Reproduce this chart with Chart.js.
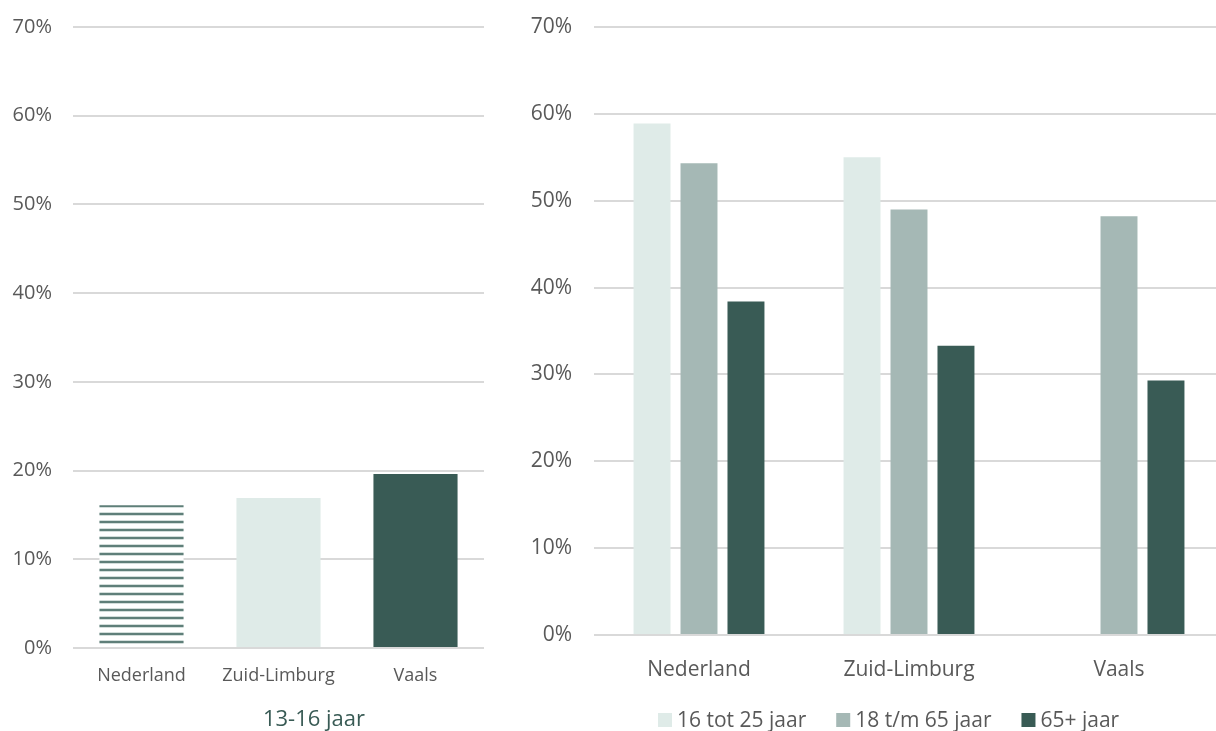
<!DOCTYPE html>
<html>
<head>
<meta charset="utf-8">
<script src="https://cdn.jsdelivr.net/npm/chart.js@4.4.1/dist/chart.umd.min.js"></script>
<style>
  html, body { margin: 0; padding: 0; background: #fff; overflow: hidden; }
  #wrap { position: relative; width: 1216px; height: 731px; overflow: hidden; }
  .box { position: absolute; top: 0; height: 731px; }
  #leftBox { left: 0; width: 490px; }
  #rightBox { left: 521px; width: 703px; }
</style>
</head>
<body>
<div id="wrap">
  <div class="box" id="leftBox"><canvas id="youthChart"></canvas></div>
  <div class="box" id="rightBox"><canvas id="adultChart"></canvas></div>
</div>
<script>
// Data
const regions = ['Nederland', 'Zuid-Limburg', 'Vaals'];
const youthValues = [16.1, 16.9, 19.6];
const youthTitle = '13-16 jaar';

const seriesNames = ['16 tot 25 jaar', '18 t/m 65 jaar', '65+ jaar'];
const age16to25 = [58.9, 55.0, null];
const age18to65 = [54.3, 49.0, 48.2];
const age65plus = [38.4, 33.3, 29.3];

const yTicks = [0, 10, 20, 30, 40, 50, 60, 70];

// Colours
const lightGreen = '#dfebe8';
const midGreen = '#a5b8b5';
const darkGreen = '#395b55';
const textGrey = '#595959';
const gridGrey = '#d9d9d9';

// Striped fill for the Nederland bar
function makeStripes() {
  const c = document.createElement('canvas');
  c.width = 8;
  c.height = 8;
  const g = c.getContext('2d');
  g.fillStyle = '#ffffff';
  g.fillRect(0, 0, 8, 8);
  g.fillStyle = '#d3dedb';
  g.fillRect(0, 0, 8, 4);
  g.fillStyle = '#5f7f79';
  g.fillRect(0, 1, 8, 2);
  return g.createPattern(c, 'repeat');
}

function yScale(width, fontSize, pad) {
  return {
    min: 0,
    max: 70,
    afterBuildTicks: (s) => { s.ticks = yTicks.map(v => ({ value: v })); },
    afterFit: (s) => {
      s.width = width;
      s.paddingTop = 0;
      s.paddingBottom = 0;
    },
    border: { display: false },
    grid: { color: gridGrey, lineWidth: 2, drawTicks: false },
    ticks: {
      color: textGrey,
      padding: pad,
      font: { family: 'Open Sans', size: fontSize },
      callback: (v) => v + '%'
    }
  };
}

// Caption under the left chart
const captionPlugin = {
  id: 'caption',
  afterDraw(chart, args, opts) {
    const ctx = chart.ctx;
    ctx.save();
    ctx.font = '22px "Open Sans"';
    ctx.fillStyle = darkGreen;
    ctx.textAlign = 'center';
    ctx.textBaseline = 'middle';
    ctx.fillText(opts.text, opts.x, opts.y);
    ctx.restore();
  }
};

// Legend under the right chart
const boxLegendPlugin = {
  id: 'boxLegend',
  afterDraw(chart, args, opts) {
    const ctx = chart.ctx;
    ctx.save();
    ctx.font = '21px "Open Sans"';
    ctx.textBaseline = 'middle';
    let x = opts.x;
    chart.data.datasets.forEach((ds) => {
      ctx.fillStyle = ds.backgroundColor;
      ctx.fillRect(x, opts.y - 7, 14, 14);
      x += 14 + 5;
      ctx.fillStyle = textGrey;
      ctx.fillText(ds.label, x, opts.y + 1);
      x += ctx.measureText(ds.label).width + 30;
    });
    ctx.restore();
  }
};

// Left chart: 13-16 jaar
new Chart(document.getElementById('youthChart'), {
  type: 'bar',
  data: {
    labels: regions,
    datasets: [{
      label: youthTitle,
      data: youthValues,
      backgroundColor: [makeStripes(), lightGreen, darkGreen],
      categoryPercentage: 1,
      barPercentage: 0.614
    }]
  },
  plugins: [captionPlugin],
  options: {
    responsive: true,
    maintainAspectRatio: false,
    animation: false,
    layout: { padding: { top: 27, right: 6, left: 0, bottom: 40 } },
    plugins: {
      legend: { display: false },
      tooltip: { enabled: false },
      caption: { text: youthTitle, x: 314, y: 720 }
    },
    scales: {
      x: {
        border: { display: false },
        grid: { display: false },
        afterFit: (s) => { s.height = 43; },
        ticks: {
          color: textGrey,
          padding: 9,
          maxRotation: 0,
          font: { family: 'Open Sans', size: 18 }
        }
      },
      y: yScale(73, 20, 21)
    }
  }
});

// Right chart: adult age groups
new Chart(document.getElementById('adultChart'), {
  type: 'bar',
  data: {
    labels: regions,
    datasets: [
      { label: seriesNames[0], data: age16to25, backgroundColor: lightGreen },
      { label: seriesNames[1], data: age18to65, backgroundColor: midGreen },
      { label: seriesNames[2], data: age65plus, backgroundColor: darkGreen }
    ]
  },
  plugins: [boxLegendPlugin],
  options: {
    responsive: true,
    maintainAspectRatio: false,
    animation: false,
    datasets: { bar: { categoryPercentage: 0.671, barPercentage: 0.787 } },
    layout: { padding: { top: 27, right: 0, left: 0, bottom: 41 } },
    plugins: {
      legend: { display: false },
      tooltip: { enabled: false },
      boxLegend: { x: 137, y: 720 }
    },
    scales: {
      x: {
        border: { display: false },
        grid: { display: false },
        afterFit: (s) => { s.height = 55; },
        ticks: {
          color: textGrey,
          padding: 14,
          maxRotation: 0,
          font: { family: 'Open Sans', size: 21 }
        }
      },
      y: yScale(73, 21, 22)
    }
  }
});
</script>
</body>
</html>
